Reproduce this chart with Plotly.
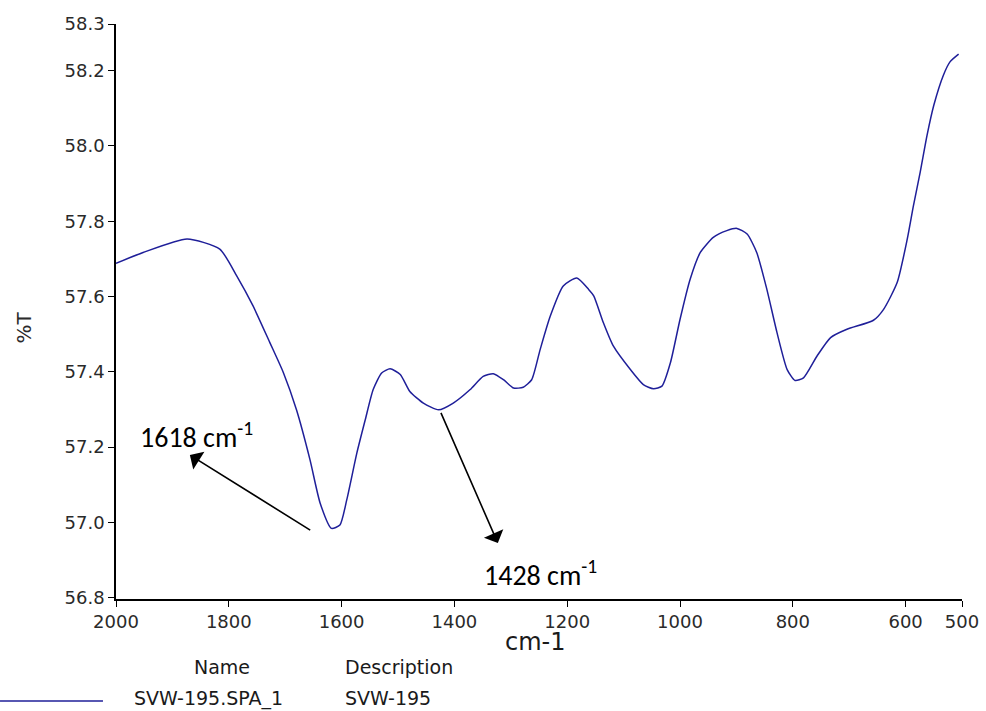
import plotly.graph_objects as go

# IR spectrum of sample SVW-195 (transmittance vs wavenumber)
wavenumber = [2000, 1952, 1874, 1816, 1786, 1757, 1727, 1703, 1680, 1656, 1638, 1618,
              1603, 1591, 1573, 1558, 1544, 1529, 1514, 1496, 1479, 1455, 1428, 1402,
              1372, 1349, 1331, 1313, 1295, 1278, 1263, 1248, 1230, 1207, 1183, 1162,
              1153, 1136, 1118, 1088, 1065, 1047, 1032, 1017, 1000, 982, 964, 941,
              917, 899, 881, 864, 846, 828, 810, 796, 781, 757, 733, 704, 657, 639,
              615, 597, 586, 574, 562, 550, 533, 521, 506]
transmittance = [57.688, 57.717, 57.753, 57.726, 57.655, 57.575, 57.477, 57.397, 57.299,
                 57.166, 57.051, 56.984, 56.993, 57.059, 57.184, 57.273, 57.353, 57.397,
                 57.408, 57.393, 57.348, 57.317, 57.299, 57.317, 57.353, 57.388, 57.395,
                 57.379, 57.357, 57.359, 57.379, 57.459, 57.548, 57.628, 57.649, 57.619,
                 57.602, 57.531, 57.468, 57.406, 57.366, 57.355, 57.362, 57.424, 57.539,
                 57.646, 57.717, 57.757, 57.775, 57.781, 57.766, 57.717, 57.619, 57.504,
                 57.406, 57.377, 57.384, 57.442, 57.491, 57.513, 57.537, 57.566, 57.637,
                 57.753, 57.842, 57.931, 58.028, 58.108, 58.188, 58.224, 58.244]

x_ticks = [2000, 1800, 1600, 1400, 1200, 1000, 800, 600, 500]
y_range = [56.7965, 58.324]
y_ticks = [56.8, 57.0, 57.2, 57.4, 57.6, 57.8, 58.0, 58.2, 58.324]
y_tick_text = ["56.8", "57.0", "57.2", "57.4", "57.6", "57.8", "58.0", "58.2", "58.3"]

# labelled bands: arrow tail near the band, head towards its label
band_1618 = dict(y=56.977, tail_x=1653, head_x=1869, head_y=57.179)
band_1428 = dict(y=57.295, tail_x=1425, head_x=1323, head_y=56.945)

LINE = "#1f1f99"
TICKFONT = dict(family="DejaVu Sans", size=18, color="#2a2a2a")

fig = go.Figure()
fig.add_trace(go.Scatter(x=wavenumber, y=transmittance, mode="lines",
                         line=dict(color=LINE, width=1.5, shape="spline", smoothing=0.6),
                         showlegend=False, hoverinfo="x+y"))

fig.update_layout(
    width=986, height=711,
    margin=dict(l=116, r=24, t=24, b=112),
    plot_bgcolor="white", paper_bgcolor="white",
    showlegend=False,
)
fig.update_xaxes(range=[2000, 500], tickvals=x_ticks, ticktext=[str(v) for v in x_ticks],
                 showgrid=False, zeroline=False, showline=True, linecolor="black",
                 linewidth=1.5, ticks="outside", ticklen=6, tickcolor="black",
                 tickfont=TICKFONT, automargin=False)
fig.update_yaxes(range=y_range, tickvals=y_ticks, ticktext=y_tick_text,
                 showgrid=False, zeroline=False, showline=True, linecolor="black",
                 linewidth=1.5, ticks="outside", ticklen=6, tickcolor="black",
                 tickfont=TICKFONT, automargin=False)

# arrows pointing from the bands to their labels
for band in (band_1618, band_1428):
    fig.add_annotation(x=band["head_x"], y=band["head_y"], ax=band["tail_x"], ay=band["y"],
                       xref="x", yref="y", axref="x", ayref="y", text="",
                       showarrow=True, arrowhead=1, arrowsize=2.2, arrowwidth=1.6,
                       arrowcolor="black", standoff=0, startstandoff=0)

LABELFONT = dict(family="Carlito, Calibri, Lato", size=28, color="black")
fig.add_annotation(x=0.026, y=0.285, xref="paper", yref="paper", text="1618 cm<sup>-1</sup>",
                   showarrow=False, xanchor="left", yanchor="middle", font=LABELFONT)
fig.add_annotation(x=0.4326, y=0.0435, xref="paper", yref="paper", text="1428 cm<sup>-1</sup>",
                   showarrow=False, xanchor="left", yanchor="middle", font=LABELFONT)

# axis titles
fig.add_annotation(x=0.4953, y=-0.075, xref="paper", yref="paper", text="cm-1",
                   showarrow=False, xanchor="center", yanchor="middle",
                   font=dict(family="DejaVu Sans", size=24, color="#1a1a1a"))
fig.add_annotation(x=-0.109, y=0.472, xref="paper", yref="paper", text="%T",
                   showarrow=False, textangle=-90, xanchor="center", yanchor="middle",
                   font=dict(family="DejaVu Sans", size=20, color="#2a2a2a"))

# sample table beneath the plot
TABLEFONT = dict(family="DejaVu Sans", size=19, color="#1a1a1a")
fig.add_annotation(x=0.1253, y=-0.1183, xref="paper", yref="paper", text="Name",
                   showarrow=False, xanchor="center", yanchor="middle", font=TABLEFONT)
fig.add_annotation(x=0.2683, y=-0.1183, xref="paper", yref="paper", text="Description",
                   showarrow=False, xanchor="left", yanchor="middle", font=TABLEFONT)
fig.add_annotation(x=0.0189, y=-0.1722, xref="paper", yref="paper", text="SVW-195.SPA_1",
                   showarrow=False, xanchor="left", yanchor="middle", font=TABLEFONT)
fig.add_annotation(x=0.2683, y=-0.1722, xref="paper", yref="paper", text="SVW-195",
                   showarrow=False, xanchor="left", yanchor="middle", font=TABLEFONT)
fig.add_shape(type="line", xref="paper", yref="paper", x0=-0.1371, x1=-0.0154,
              y0=-0.1774, y1=-0.1774, line=dict(color=LINE, width=1.5))

fig.write_html("out.html")
